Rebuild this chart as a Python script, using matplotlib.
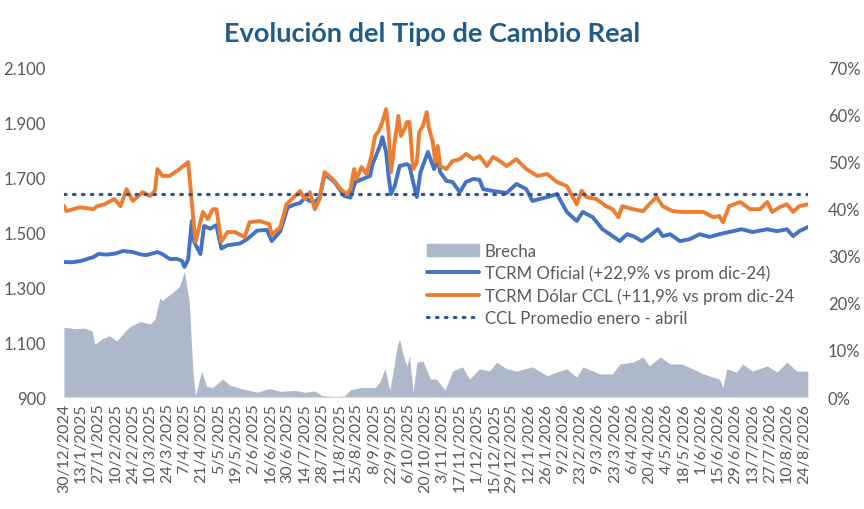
import pandas as pd
import matplotlib
matplotlib.use('Agg')
import matplotlib.pyplot as plt
from matplotlib.patches import Patch
from matplotlib.lines import Line2D

inicio = pd.Timestamp('2024-12-30')

# dias desde 30/12/2024 y valores
dias_oficial = [0, 7, 14, 24, 28, 35, 42, 48, 56, 63, 67, 76, 80, 86, 92, 96, 98, 101, 104, 106,
                111, 114, 119, 124, 128, 133, 143, 149, 157, 165, 169, 176, 182, 188, 192, 196,
                200, 204, 208, 212, 220, 228, 233, 237, 243, 249, 251, 257, 259, 262, 264, 266,
                269, 273, 279, 281, 284, 287, 290, 296, 301, 304, 306, 311, 316, 322, 327, 333,
                338, 341, 349, 360, 368, 376, 381, 393, 401, 409, 417, 422, 430, 438, 444, 452,
                458, 463, 470, 476, 483, 487, 493, 501, 509, 517, 525, 533, 541, 551, 560, 572,
                580, 588, 593, 598, 605]
tcrm_oficial = [1391, 1390, 1395, 1409, 1420, 1418, 1422, 1431, 1427, 1418, 1416, 1427, 1420, 1402,
                1402, 1395, 1373, 1400, 1540, 1463, 1420, 1522, 1512, 1525, 1440, 1452, 1458, 1474,
                1505, 1508, 1467, 1503, 1590, 1601, 1605, 1625, 1613, 1609, 1627, 1711, 1682, 1631,
                1625, 1682, 1693, 1704, 1747, 1813, 1845, 1791, 1704, 1638, 1667, 1740, 1747, 1740,
                1682, 1627, 1718, 1791, 1729, 1765, 1718, 1686, 1682, 1645, 1682, 1693, 1690, 1656,
                1649, 1642, 1675, 1656, 1613, 1627, 1638, 1573, 1540, 1573, 1554, 1510, 1492, 1467,
                1492, 1485, 1467, 1485, 1510, 1485, 1492, 1467, 1474, 1492, 1482, 1492, 1500, 1510,
                1500, 1510, 1503, 1510, 1485, 1503, 1518]

dias_ccl = [0, 2, 13, 24, 27, 33, 41, 46, 51, 56, 64, 70, 74, 76, 80, 86, 94, 101, 107, 113,
            117, 121, 124, 128, 133, 139, 147, 151, 159, 167, 169, 176, 181, 188, 192, 196, 200,
            204, 208, 212, 220, 225, 230, 233, 236, 238, 242, 246, 250, 253, 256, 259, 262, 264,
            266, 269, 272, 274, 277, 279, 281, 284, 287, 289, 292, 295, 297, 300, 302, 304, 306,
            311, 316, 322, 327, 333, 338, 344, 349, 354, 360, 368, 376, 385, 393, 401, 409, 417,
            421, 425, 433, 441, 446, 451, 454, 463, 471, 476, 482, 487, 495, 503, 511, 520, 528,
            533, 536, 541, 550, 558, 566, 572, 576, 582, 588, 593, 598, 605]
tcrm_ccl = [1594, 1576, 1590, 1583, 1594, 1601, 1620, 1594, 1656, 1613, 1645, 1631, 1650, 1729,
            1704, 1704, 1729, 1754, 1463, 1573, 1547, 1583, 1583, 1465, 1500, 1500, 1482, 1536,
            1540, 1529, 1490, 1518, 1601, 1631, 1649, 1620, 1645, 1583, 1620, 1718, 1686, 1656,
            1638, 1656, 1729, 1693, 1736, 1711, 1776, 1849, 1867, 1900, 1947, 1864, 1718, 1827,
            1922, 1849, 1875, 1900, 1900, 1729, 1754, 1864, 1886, 1936, 1875, 1827, 1754, 1813,
            1740, 1729, 1758, 1765, 1784, 1765, 1776, 1740, 1773, 1760, 1740, 1765, 1729, 1704,
            1711, 1682, 1667, 1601, 1650, 1627, 1620, 1594, 1583, 1554, 1594, 1583, 1576, 1601,
            1627, 1594, 1576, 1573, 1573, 1573, 1554, 1558, 1536, 1594, 1609, 1583, 1583, 1609,
            1573, 1590, 1601, 1573, 1594, 1601]

dias_brecha = [0, 9, 17, 23, 25, 32, 37, 43, 50, 54, 62, 70, 74, 78, 80, 89, 94, 98, 102, 105,
               107, 112, 116, 121, 129, 135, 146, 157, 167, 176, 188, 196, 204, 210, 220, 228,
               233, 241, 253, 257, 261, 265, 269, 271, 273, 276, 279, 281, 284, 287, 292, 298,
               303, 310, 316, 324, 330, 338, 346, 352, 360, 368, 381, 393, 401, 409, 417, 422,
               436, 446, 452, 463, 471, 476, 485, 493, 503, 511, 520, 528, 533, 536, 539, 547,
               552, 560, 572, 580, 588, 596, 605]
brecha = [14.8, 14.5, 14.6, 14.0, 11.2, 12.5, 13.0, 11.9, 14.0, 15.0, 16.0, 15.5, 16.5, 21.0,
          20.5, 22.3, 23.5, 26.7, 20.0, 5.0, 0.3, 5.5, 2.3, 2.0, 3.8, 2.5, 1.7, 1.0, 1.8, 1.2,
          1.4, 1.0, 1.3, 0.3, 0.1, 0.2, 1.5, 2.0, 2.0, 3.2, 6.0, 1.5, 7.4, 10.8, 12.3, 8.7, 6.6,
          8.7, 1.0, 7.4, 7.6, 3.8, 3.8, 1.5, 5.5, 6.4, 3.8, 6.0, 5.5, 7.4, 6.0, 5.5, 6.4, 4.5,
          5.3, 6.0, 4.2, 6.4, 4.9, 4.9, 7.0, 7.4, 8.5, 6.6, 8.5, 7.0, 7.0, 6.0, 4.9, 4.2, 3.8,
          2.1, 6.0, 5.3, 7.0, 5.5, 6.6, 5.3, 7.4, 5.5, 5.5]

ccl_promedio = 1640

nombres = ['Brecha', 'TCRM Oficial (+22,9% vs prom dic-24)',
           'TCRM Dólar CCL (+11,9% vs prom dic-24', 'CCL Promedio enero - abril']

gris = '#595959'
plt.rcParams['font.family'] = ['Lato', 'DejaVu Sans']

f_ofi = inicio + pd.to_timedelta(dias_oficial, unit='D')
f_ccl = inicio + pd.to_timedelta(dias_ccl, unit='D')
f_bre = inicio + pd.to_timedelta(dias_brecha, unit='D')

fig = plt.figure(figsize=(8.64, 5.10), dpi=100)
ax = fig.add_axes([0.074, 0.2196, 0.861, 0.647])
ax2 = ax.twinx()

ax2.fill_between(f_bre, 0, brecha, color='#ADB9CA', linewidth=0)
ax.plot(f_ofi, tcrm_oficial, color='#4472C4', linewidth=2.8, solid_joinstyle='round')
ax.plot(f_ccl, tcrm_ccl, color='#ED7D31', linewidth=2.8, solid_joinstyle='round')
ax.axhline(ccl_promedio, color='#2F5597', linewidth=2.3, linestyle=(0, (0.5, 2.3)),
           dash_capstyle='round')

ax.set_zorder(ax2.get_zorder() + 1)
ax.patch.set_visible(False)

ax.set_xlim(f_bre[0], f_bre[-1])
ax.set_ylim(900, 2100)
ax2.set_ylim(0, 70)

ticks_x = pd.date_range(inicio, '2026-08-24', freq='14D')
ax.set_xticks(ticks_x)
ax.set_xticklabels([f'{d.day}/{d.month}/{d.year}' for d in ticks_x], rotation=90,
                   fontsize=11.5, color=gris)
yt = list(range(900, 2101, 200))
ax.set_yticks(yt)
ax.set_yticklabels([f'{v:,}'.replace(',', '.') for v in yt], fontsize=12, color=gris)
yt2 = list(range(0, 71, 10))
ax2.set_yticks(yt2)
ax2.set_yticklabels([f'{v}%' for v in yt2], fontsize=12, color=gris)

for a in (ax, ax2):
    for s in a.spines.values():
        s.set_visible(False)
    a.tick_params(length=0)
ax.spines['bottom'].set_visible(True)
ax.spines['bottom'].set_color('#D9D9D9')
ax.tick_params(axis='x', pad=4)
ax.tick_params(axis='y', pad=13)
ax2.tick_params(axis='y', pad=14.5)

handles = [Patch(color='#ADB9CA'),
           Line2D([], [], color='#4472C4', linewidth=2.8, solid_capstyle='round'),
           Line2D([], [], color='#ED7D31', linewidth=2.8, solid_capstyle='round'),
           Line2D([], [], color='#2F5597', linewidth=2.3, linestyle=(0, (0.5, 2.3)),
                  dash_capstyle='round')]
leg = ax.legend(handles, nombres, loc='upper left', bbox_to_anchor=(0.488, 0.468),
                frameon=False, fontsize=12.2, handlelength=3.1, handletextpad=0.3,
                labelspacing=0.36, borderaxespad=0, borderpad=0)
for t in leg.get_texts():
    t.set_color(gris)

fig.suptitle('Evolución del Tipo de Cambio Real', x=0.5, y=0.957, fontsize=19.5,
             fontweight='bold', color='#1F5C8B')

fig.savefig('out.png', dpi=100)
